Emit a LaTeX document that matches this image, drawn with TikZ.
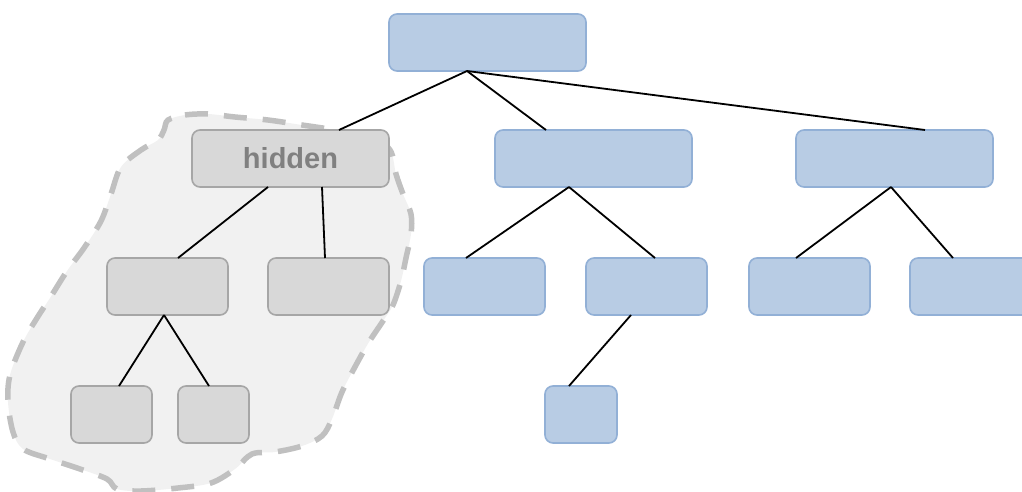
\documentclass[tikz,border=0pt]{standalone}
\usepackage{fontspec}
\setmainfont{Liberation Sans}
\definecolor{bfill}{HTML}{B8CCE4}
\definecolor{bline}{HTML}{92B0D6}
\definecolor{gfill}{HTML}{D8D8D8}
\definecolor{gline}{HTML}{A6A6A6}
\definecolor{gtext}{HTML}{808080}
\definecolor{blobfill}{HTML}{F1F1F1}
\definecolor{blobline}{HTML}{C0C0C0}
\tikzset{
  treebox/.style={rounded corners=8pt, line width=1.6pt, inner sep=0pt, outer sep=0pt, minimum height=57pt},
  bluebox/.style={treebox, fill=bfill, draw=bline},
  graybox/.style={treebox, fill=gfill, draw=gline},
  link/.style={line width=1.8pt, black},
}
\begin{document}
\begin{tikzpicture}[x=1pt, y=-1pt]
\useasboundingbox (0,0) rectangle (1022,492);
% hidden region blob
\draw[fill=blobfill, draw=blobline, line width=5.5pt, dash pattern=on 23pt off 16pt]
  plot[smooth cycle, tension=0.55] coordinates {
  (168,120) (185,115) (208,114) (235,117) (268,120) (302,125) (335,130) (370,137)
  (390,150) (396,174) (403,194) (411,214) (411,234) (406,258) (401,281) (393,305)
  (383,321) (369,342) (356,365) (342,392) (332,419) (322,436) (302,446) (275,452)
  (252,454) (235,469) (211,483) (178,488) (141,491) (117,489) (107,479) (80,469)
  (50,459) (23,449) (13,432) (8,402) (10,375) (23,342) (37,318) (50,298) (67,271)
  (84,248) (101,221) (111,194) (121,167) (141,150) (158,140) (164,130)};
% level 1
\node[bluebox, minimum width=197pt] (root) at (487.5,42.5) {};
% level 2
\node[graybox, minimum width=197pt, text=gtext, font=\bfseries\fontsize{29}{34}\selectfont] (hid) at (290.5,158.5) {hidden};
\node[bluebox, minimum width=197pt] (b) at (593.5,158.5) {};
\node[bluebox, minimum width=197pt] (c) at (894.5,158.5) {};
% level 3
\node[graybox, minimum width=121pt] (g1) at (167.5,286.5) {};
\node[graybox, minimum width=121pt] (g2) at (328.5,286.5) {};
\node[bluebox, minimum width=121pt] (b1) at (484.5,286.5) {};
\node[bluebox, minimum width=121pt] (b2) at (646.5,286.5) {};
\node[bluebox, minimum width=121pt] (c1) at (809.5,286.5) {};
\node[bluebox, minimum width=121pt] (c2) at (970.5,286.5) {};
% level 4
\node[graybox, minimum width=81pt] (g11) at (111.5,414.5) {};
\node[graybox, minimum width=71pt] (g12) at (213.5,414.5) {};
\node[bluebox, minimum width=72pt] (b21) at (581,414.5) {};
% connectors
\draw[link] ([xshift=-20.5pt]root.south) -- ([xshift=48.5pt]hid.north);
\draw[link] ([xshift=-20.5pt]root.south) -- ([xshift=-47.5pt]b.north);
\draw[link] ([xshift=-20.5pt]root.south) -- ([xshift=30.5pt]c.north);
\draw[link] ([xshift=-22.5pt]hid.south) -- ([xshift=10.5pt]g1.north);
\draw[link] ([xshift=31.5pt]hid.south) -- ([xshift=-3.5pt]g2.north);
\draw[link] ([xshift=-24.5pt]b.south) -- ([xshift=-18.5pt]b1.north);
\draw[link] ([xshift=-24.5pt]b.south) -- ([xshift=8.5pt]b2.north);
\draw[link] ([xshift=-3.5pt]c.south) -- ([xshift=-13.5pt]c1.north);
\draw[link] ([xshift=-3.5pt]c.south) -- ([xshift=-17.5pt]c2.north);
\draw[link] ([xshift=-3.5pt]g1.south) -- ([xshift=7.5pt]g11.north);
\draw[link] ([xshift=-3.5pt]g1.south) -- ([xshift=-4.5pt]g12.north);
\draw[link] ([xshift=-15.5pt]b2.south) -- ([xshift=-12pt]b21.north);
\end{tikzpicture}
\end{document}
